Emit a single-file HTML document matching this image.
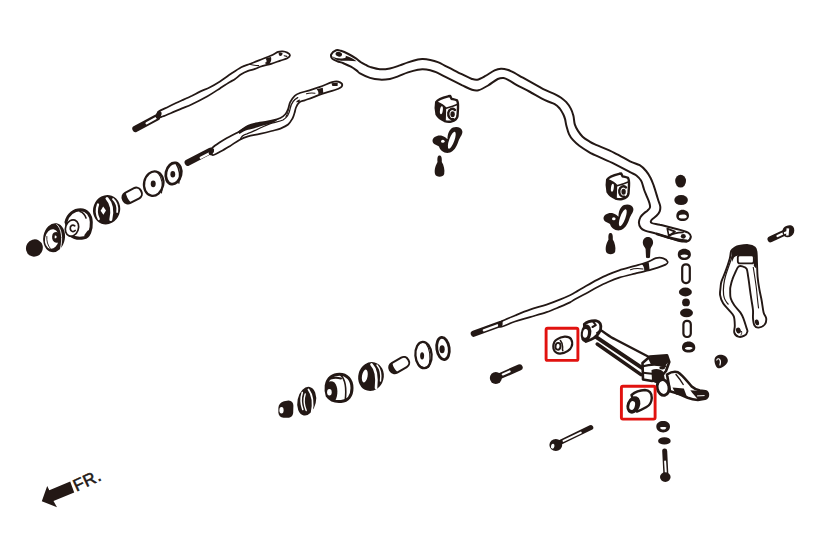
<!DOCTYPE html>
<html><head><meta charset="utf-8"><style>
html,body{margin:0;padding:0;background:#fff;}
body{width:815px;height:543px;overflow:hidden;}
svg{display:block;}
</style></head><body>
<svg width="815" height="543" viewBox="0 0 815 543">
<rect width="815" height="543" fill="#fff"/>
<g fill="none" stroke-linecap="round" stroke-linejoin="round">

<!--RODS-->
<path d="M159.0,111.3 C160.8,110.1 165.6,108.1 168.4,106.7 C171.2,105.3 173.7,104.1 176.0,103.0 C178.3,101.9 179.3,101.5 182.0,100.3 C184.7,99.1 189.0,97.2 192.0,95.8 C195.0,94.3 197.0,93.0 200.0,91.6 C203.0,90.2 206.7,88.9 210.0,87.2 C213.3,85.5 216.5,83.6 220.0,81.4 C223.5,79.2 227.5,76.2 231.0,73.8 C234.5,71.4 238.0,68.9 241.2,67.2 C244.4,65.5 247.3,64.9 250.4,63.7 C253.5,62.5 256.1,61.5 259.6,60.1 C263.1,58.7 268.1,56.9 271.2,55.5 C274.3,54.1 276.2,52.6 278.1,51.9 C280.0,51.2 281.2,51.3 282.7,51.4 C284.2,51.5 286.1,52.0 287.3,52.6 C288.5,53.2 290.0,54.3 290.0,55.3 C290.0,56.2 288.9,57.4 287.3,58.3 C285.7,59.2 283.1,59.7 280.4,60.6 C277.7,61.5 274.3,62.9 271.2,63.8 C268.1,64.7 264.7,65.2 262.0,66.1 C259.3,66.9 257.3,68.1 255.0,68.9 C252.7,69.7 250.4,70.0 248.1,70.9 C245.8,71.8 243.4,72.9 241.2,74.3 C239.0,75.7 236.7,77.9 234.8,79.2 C232.9,80.5 232.4,80.5 229.9,82.0 C227.4,83.5 223.6,86.0 219.9,88.4 C216.2,90.8 212.2,93.6 207.5,96.2 C202.8,98.8 196.2,102.2 192.0,104.2 C187.8,106.2 185.6,106.9 182.0,108.4 C178.4,109.9 174.1,111.8 170.7,113.2 C167.3,114.6 163.5,116.4 161.5,116.9 C159.5,117.5 159.2,117.0 158.5,116.5 C157.8,116.0 157.4,114.9 157.5,114.0 C157.6,113.1 157.2,112.5 159.0,111.3 Z" fill="#fff" stroke="#231815" stroke-width="1.75"/>
<path d="M265.5,58.6 C267.5,57.8 269.5,57.2 271,57 C271.6,59.3 271.2,61.5 270,63 C268.5,63.6 267,63.8 265.3,63.7 C266.8,62.2 267.2,60.5 265.5,58.6 Z" fill="#231815"/>
<path d="M278.6,52.6 C280.2,52.4 282,52.6 282.6,53.2 C282.6,55 281.2,56.2 279.8,55.9 C278.8,55.2 278.5,54 278.6,52.6 Z" fill="#231815"/>
<path d="M264.8,62.5 C267,62.4 269.5,62.6 271.2,63.2 L268,64.2 C266.5,64 265.5,63.5 264.8,62.5 Z" fill="#231815"/>
<path d="M249.5,64.3 C253,65.2 256,65.6 258.7,65.6" fill="none" stroke="#231815" stroke-width="1.1"/>
<path d="M284.2,55.7 L286.9,56.4" fill="none" stroke="#231815" stroke-width="1.1"/>
<path d="M135.5,128.8 L157,117.4" stroke="#231815" stroke-width="6.4"/>
<path d="M146.6,123.2 L155.6,118.3" stroke="#fff" stroke-width="2.3"/>
<ellipse cx="158.6" cy="114.8" rx="2.6" ry="4" transform="rotate(25 158.6 114.8)" fill="#231815"/>
<path d="M212.5,147.6 C213.9,146.3 217.1,144.1 219.5,142.5 C221.9,140.9 223.6,139.8 226.9,137.9 C230.2,136.1 235.9,133.4 239.4,131.4 C242.9,129.4 244.6,127.2 248.0,125.7 C251.4,124.2 255.9,123.5 259.8,122.7 C263.7,121.9 268.2,121.5 271.6,120.7 C275.0,119.9 278.1,119.1 280.4,118.0 C282.7,116.9 284.0,115.8 285.3,114.3 C286.6,112.8 287.2,111.3 288.0,109.3 C288.8,107.3 289.1,104.5 290.2,102.2 C291.3,100.0 293.0,97.4 294.7,95.8 C296.4,94.2 298.1,93.7 300.6,92.8 C303.1,91.9 306.3,91.3 309.5,90.3 C312.7,89.3 316.2,88.2 320.0,86.9 C323.8,85.6 329.1,83.1 332.1,82.2 C335.1,81.3 336.5,81.2 338.2,81.7 C339.9,82.2 342.3,83.8 342.3,85.0 C342.3,86.2 341.8,87.3 338.4,88.8 C335.0,90.3 326.2,92.4 322.0,93.8 C317.8,95.2 315.9,96.3 313.0,97.4 C310.1,98.5 307.0,99.5 304.7,100.3 C302.4,101.1 300.8,101.1 299.4,102.3 C297.9,103.5 296.8,105.7 296.0,107.5 C295.2,109.3 295.1,111.2 294.5,113.0 C293.9,114.8 293.6,116.6 292.5,118.5 C291.4,120.4 290.1,122.8 288.1,124.5 C286.1,126.2 283.1,127.5 280.4,128.6 C277.6,129.7 275.0,130.1 271.6,131.0 C268.2,131.9 263.7,133.0 259.8,133.9 C255.9,134.8 251.4,135.3 248.0,136.3 C244.6,137.3 242.5,138.2 239.4,139.9 C236.3,141.6 232.5,144.5 229.4,146.4 C226.3,148.3 223.7,149.9 221.0,151.3 C218.3,152.7 215.2,154.6 213.5,155.0 C211.8,155.4 211.4,154.3 211.0,153.5 C210.6,152.7 210.6,151.0 210.8,150.0 C211.1,149.0 211.1,148.8 212.5,147.6 Z" fill="#fff" stroke="#231815" stroke-width="1.75"/>
<path d="M238,131.6 C242,129 245,127 248,125.7 C252,124 256,123.3 259.8,122.7 C264,121.9 268,121.2 271.6,120.7 C275,120.2 278,119.2 280,118.3 C277,120.5 274,122.6 271.6,123.3 C267,124.6 263,125.4 259.8,126.5 C255,128 251,129 248,129.8 C245,130.8 242,132.3 239.5,134 Z" fill="#231815"/>
<path d="M240.5,139.2 C241,136.5 243,134.8 247,133.8 C255,131.3 265,124.8 272.8,122.8 C277,121.8 280,121.5 283,120 C287,117.5 289.5,113 290.2,108.5 C291,104 293,100 297.7,97.6" fill="none" stroke="#231815" stroke-width="1.3"/>
<path d="M286,116.5 C288,113 288.5,110 289,107" fill="none" stroke="#231815" stroke-width="1"/>
<path d="M296,102.2 C297,100.5 298.5,99.7 300,99.6 L299.5,102 Z" fill="#231815"/>
<path d="M316.5,89.3 L322.8,87.8 L323.3,93.3 L318.3,94.2 C318.8,92.3 318,90.5 316.5,89.3 Z" fill="#231815"/>
<path d="M331.4,83.2 L337.8,82.4 L337.6,85.9 L332.4,86 Z" fill="#231815"/>
<path d="M306.5,93.8 C309,92.9 312,92.8 315,93.2" fill="none" stroke="#231815" stroke-width="1.1"/>
<path d="M187.8,162.6 L210.5,150.8" stroke="#231815" stroke-width="6.4"/>
<path d="M200.8,157.8 L208.6,153.8" stroke="#fff" stroke-width="2.4"/>
<ellipse cx="211.4" cy="151.6" rx="2.2" ry="3.8" transform="rotate(25 211.4 151.6)" fill="#231815"/>
<path d="M501.5,321.4 C504.0,320.0 510.2,317.5 515.0,315.5 C519.8,313.5 524.7,311.4 530.0,309.6 C535.3,307.8 541.5,306.3 546.6,304.6 C551.7,302.9 556.5,301.0 560.4,299.4 C564.3,297.8 567.6,296.3 570.0,295.2 C572.4,294.1 572.3,294.1 575.0,292.6 C577.7,291.1 582.3,288.1 586.0,286.0 C589.7,283.9 593.4,281.8 597.1,279.9 C600.8,278.0 604.3,276.2 608.0,274.6 C611.7,273.0 614.7,271.8 619.2,270.3 C623.7,268.9 630.4,267.2 635.0,265.9 C639.6,264.6 643.5,263.6 647.0,262.3 C650.5,261.0 653.1,258.9 655.8,258.2 C658.5,257.5 661.3,257.7 663.3,258.3 C665.3,258.9 667.2,260.8 667.6,261.8 C668.0,262.9 667.9,263.4 665.6,264.6 C663.3,265.8 657.9,267.6 653.7,268.9 C649.5,270.2 643.3,271.6 640.2,272.4 C637.1,273.2 638.5,272.7 635.0,273.6 C631.5,274.5 623.7,276.3 619.2,277.7 C614.7,279.1 611.7,280.4 608.0,282.0 C604.3,283.6 600.8,285.4 597.1,287.3 C593.4,289.2 589.7,291.4 586.0,293.4 C582.3,295.4 577.7,297.8 575.0,299.3 C572.3,300.8 572.4,301.2 570.0,302.4 C567.6,303.6 564.3,305.0 560.4,306.6 C556.5,308.2 551.7,310.4 546.6,312.1 C541.5,313.9 535.3,315.5 530.0,317.1 C524.7,318.7 519.8,319.9 515.0,321.5 C510.2,323.1 504.0,326.3 501.5,326.7 C499.0,327.1 499.8,324.9 499.8,324.0 C499.8,323.1 499.0,322.8 501.5,321.4 Z" fill="#fff" stroke="#231815" stroke-width="1.75"/>
<path d="M641.5,264 L648.7,262.3 L649.6,269.8 L644.2,270.7 C644.5,268 643.5,265.5 641.5,264 Z" fill="#231815"/>
<path d="M630.5,269.8 C634,268.3 638,268.2 643,269" fill="none" stroke="#231815" stroke-width="1.1"/>
<path d="M473.8,333.7 L499.3,324.3" stroke="#231815" stroke-width="6.2"/>
<path d="M483.8,330.4 L497.5,325.4" stroke="#fff" stroke-width="2.2"/>
<ellipse cx="500.4" cy="324" rx="1.9" ry="3.6" transform="rotate(20 500.4 324)" fill="#231815"/>
<path d="M336.2,50.3 C337.8,49.7 338.9,50.2 340.9,50.8 C342.9,51.4 345.9,52.7 348.4,54.0 C350.9,55.3 353.9,57.1 355.9,58.4 C357.9,59.7 358.9,60.9 360.5,62.0 C362.1,63.1 364.2,64.1 365.8,64.9 C367.4,65.7 367.6,66.2 370.0,66.9 C372.4,67.6 376.6,69.0 379.9,69.2 C383.2,69.5 386.6,69.0 389.9,68.4 C393.2,67.8 396.8,66.4 399.8,65.4 C402.8,64.4 405.0,63.4 408.0,62.4 C411.0,61.4 415.4,60.1 417.9,59.5 C420.4,58.9 420.8,58.9 422.9,59.0 C425.0,59.1 427.8,59.5 430.3,60.0 C432.8,60.5 434.7,60.9 437.8,62.2 C440.9,63.5 444.9,65.7 448.9,67.7 C452.9,69.7 458.1,72.4 461.8,74.2 C465.6,76.0 468.8,77.8 471.4,78.7 C474.0,79.6 474.9,80.1 477.2,79.7 C479.4,79.3 482.0,77.8 484.9,76.2 C487.8,74.7 491.9,71.6 494.6,70.4 C497.3,69.2 498.9,68.9 501.0,68.8 C503.1,68.7 505.6,69.2 507.4,69.7 C509.2,70.2 509.4,70.4 512.0,71.7 C514.6,73.0 518.9,75.5 522.9,77.7 C526.9,79.9 532.1,82.8 535.8,84.8 C539.5,86.8 541.9,88.4 545.0,89.9 C548.1,91.5 552.0,92.8 554.7,94.1 C557.4,95.4 559.2,96.3 561.1,97.7 C563.0,99.1 564.7,100.4 566.3,102.2 C567.9,104.0 569.6,106.3 570.8,108.6 C572.0,110.8 572.7,113.1 573.4,115.7 C574.1,118.3 574.0,121.9 574.8,124.4 C575.6,126.9 576.7,128.9 578.0,130.9 C579.3,132.9 580.8,135.0 582.6,136.7 C584.4,138.4 586.9,139.9 589.0,141.2 C591.1,142.5 590.8,142.5 595.0,144.4 C599.2,146.3 608.5,150.0 614.3,152.8 C620.1,155.6 625.8,159.2 630.0,161.3 C634.2,163.4 637.0,163.6 639.7,165.2 C642.4,166.8 644.3,168.9 646.1,171.0 C647.9,173.1 649.3,175.5 650.6,178.0 C651.9,180.5 652.8,183.1 653.8,185.8 C654.8,188.5 655.7,191.7 656.4,194.1 C657.1,196.5 657.6,198.0 658.2,200.0 C658.8,202.0 660.0,204.2 660.2,206.1 C660.5,208.0 660.3,209.7 659.7,211.3 C659.1,212.9 657.9,214.4 656.5,215.8 C655.1,217.2 652.3,218.8 651.5,220.0 C650.7,221.2 650.3,222.2 651.7,223.0 C653.1,223.8 656.6,223.9 659.8,224.7 C663.0,225.4 667.1,226.6 670.8,227.5 C674.5,228.4 679.0,229.5 681.9,230.4 C684.8,231.3 686.8,231.7 688.3,232.8 C689.8,233.9 691.0,235.6 690.8,237.0 C690.6,238.4 689.1,240.8 687.0,241.4 C684.9,242.0 681.5,241.4 678.2,240.7 C674.9,240.0 670.8,238.4 667.1,237.2 C663.4,236.0 659.8,234.7 656.1,233.6 C652.4,232.5 647.5,231.6 645.0,230.6 C642.5,229.6 641.8,229.2 640.8,227.8 C639.8,226.5 638.9,224.3 638.9,222.5 C638.9,220.7 639.8,218.5 640.6,216.9 C641.5,215.3 642.9,214.2 644.0,213.2 C645.1,212.1 646.5,211.6 647.5,210.6 C648.5,209.6 649.7,208.7 650.0,207.4 C650.3,206.1 649.9,204.7 649.4,202.9 C648.9,201.1 647.7,198.6 646.8,196.4 C645.9,194.2 644.8,191.6 644.2,190.0 C643.6,188.4 643.7,188.2 643.2,186.6 C642.7,185.0 642.1,182.4 641.0,180.6 C639.9,178.8 638.2,176.9 636.4,175.5 C634.6,174.1 633.7,174.1 630.0,172.2 C626.3,170.2 620.1,166.7 614.3,163.8 C608.5,161.0 599.2,157.1 595.0,155.1 C590.8,153.1 591.6,153.7 589.0,152.1 C586.4,150.5 582.0,147.7 579.3,145.7 C576.6,143.7 574.6,141.8 572.9,139.9 C571.2,138.0 570.1,136.5 569.0,134.1 C567.9,131.7 567.1,128.2 566.4,125.7 C565.7,123.2 565.6,120.9 565.0,118.9 C564.4,116.9 563.9,115.5 563.0,113.8 C562.1,112.1 561.2,110.2 559.8,108.6 C558.4,107.0 557.2,105.5 554.7,104.1 C552.2,102.7 549.2,102.3 545.0,100.2 C540.8,98.1 534.1,94.1 529.3,91.5 C524.5,88.9 519.6,86.6 516.4,84.8 C513.2,83.0 512.1,82.0 510.0,80.9 C507.9,79.8 505.6,78.3 503.6,78.0 C501.6,77.7 500.4,77.8 497.8,79.0 C495.2,80.2 491.3,83.6 488.1,85.5 C484.9,87.4 481.1,89.6 478.4,90.3 C475.7,91.0 474.8,90.7 472.0,89.8 C469.2,88.9 465.7,86.9 461.8,85.1 C457.9,83.2 453.2,80.8 448.9,78.7 C444.6,76.6 439.1,73.6 436.0,72.2 C432.9,70.8 432.5,70.8 430.3,70.3 C428.1,69.8 425.0,69.3 422.9,69.2 C420.8,69.1 420.4,69.2 417.9,69.7 C415.4,70.2 411.3,71.3 408.0,72.4 C404.7,73.5 401.0,75.3 398.0,76.4 C395.0,77.5 392.9,78.4 389.9,78.9 C386.9,79.4 383.2,79.8 379.9,79.6 C376.6,79.4 373.3,78.9 370.0,77.9 C366.7,76.9 362.2,74.6 360.0,73.4 C357.8,72.2 358.3,71.7 356.8,70.6 C355.3,69.5 353.1,67.8 350.9,66.6 C348.7,65.4 345.6,64.2 343.4,63.3 C341.1,62.4 339.2,62.0 337.4,61.3 C335.6,60.6 333.5,60.0 332.5,58.9 C331.5,57.8 330.6,55.9 331.2,54.5 C331.8,53.1 334.6,50.9 336.2,50.3 Z" fill="#fff" stroke="#231815" stroke-width="2.0"/>
<ellipse cx="338.8" cy="54.2" rx="3.3" ry="2.3" transform="rotate(15 338.8 54.2)" fill="#231815"/>
<path d="M332,56 C334,59 337,60.5 341,60.8 C346,61.2 351,61 356.5,61.2 C353.5,58.8 350,57 345.5,55.8 C346.5,57.2 345.5,58 343.5,58.3 C339.5,58.8 335.5,58.3 332,56 Z" fill="#231815"/>
<path d="M667.3,228.6 L668.8,235.8 L675,231.6 Z" fill="none" stroke="#231815" stroke-width="1.7" stroke-linejoin="round"/>
<path d="M668.8,236 C672,234 677,232.6 683,232.4" fill="none" stroke="#231815" stroke-width="1.8"/>
<path d="M657,234 C665,236.6 674,239.5 686.5,241" fill="none" stroke="#231815" stroke-width="2.8" stroke-linecap="round"/>
<ellipse cx="683.3" cy="236.3" rx="2.5" ry="2.4" fill="#231815"/>
<!--/RODS-->
</g>



<!-- UPPER LEFT BUSHING ROW -->
<g stroke-linecap="round" stroke-linejoin="round">
<ellipse cx="34.4" cy="248" rx="8.3" ry="8.8" transform="rotate(30 34.4 248)" fill="#231815"/>
<ellipse cx="54.1" cy="237.7" rx="10.8" ry="14.6" transform="rotate(10 54.1 237.7)" fill="#231815"/>
<ellipse cx="51.9" cy="239" rx="6.9" ry="9.9" transform="rotate(10 51.9 239)" fill="#fff"/>
<path d="M59,233 C57,231.3 53.8,231.6 52.6,234 C51.6,236.8 52,240.3 54.2,242 C56.2,243.3 58.5,242.8 59.6,241.2 C59.9,238.5 59.7,235.5 59,233 Z" fill="#231815"/>
<path d="M54.8,235.6 C56,235.2 56.8,236 56.6,237.2 C56.3,238.3 55.4,238.6 54.6,238.2 Z" fill="#fff"/>
<path d="M56.8,224.5 C61.5,228.5 63,238 60.5,248.5" fill="none" stroke="#fff" stroke-width="0.9"/>
<path d="M46.8,236.5 C46.4,241 47.8,245.5 50.3,248.5" fill="none" stroke="#231815" stroke-width="0.9"/>
<!-- dome -->
<path d="M66,222 C68,214 74,209.8 80.5,209.8 C87,209.8 91,215 91.3,222 C91.7,230 89,237 84,237.8 C79,239 74,238 70,235 Z" fill="#fff" stroke="#231815" stroke-width="3"/>
<ellipse cx="72" cy="228" rx="6.4" ry="8.4" transform="rotate(20 72 228)" fill="#fff" stroke="#231815" stroke-width="1.7"/>
<path d="M74.8,225.8 C72.5,224 69.8,225.8 70.3,229 C70.8,231.8 73.5,232.3 75.2,230.5" fill="none" stroke="#231815" stroke-width="1.7"/>
<path d="M80,211.5 C83,212.5 85,215 86,218" fill="none" stroke="#231815" stroke-width="1.6"/>
<path d="M85.5,235.5 L88.5,231.5" stroke="#231815" stroke-width="2.4"/>
<!-- big dark -->
<ellipse cx="106.6" cy="209.7" rx="13.4" ry="14.9" transform="rotate(20 106.6 209.7)" fill="#231815"/>
<path d="M98,204.5 Q95.2,212 98.8,219" fill="none" stroke="#fff" stroke-width="2.2"/>
<path d="M100.6,210.8 L103.2,206.6 L106,210.5 L103.4,214.8 Z" fill="#fff"/>
<path d="M107,198.5 Q114,206 110.8,219.5" fill="none" stroke="#fff" stroke-width="3"/>
<path d="M113,199 Q118.3,204 117.2,212" fill="none" stroke="#fff" stroke-width="1.8"/>
<!-- sleeve -->
<g transform="translate(132.2,195.6) rotate(-28)">
<rect x="-10" y="-5.7" width="20" height="11.4" rx="5" fill="#fff" stroke="#231815" stroke-width="2"/>
<path d="M-4.3,-5.7 Q-6.3,0 -4.3,5.7 L-5,5.7 A5,5 0 0 1 -10,0.7 L-10,-0.7 A5,5 0 0 1 -5,-5.7 Z" fill="#231815"/>
</g>
<!-- washers -->
<ellipse cx="153.7" cy="183.6" rx="9.6" ry="12.3" transform="rotate(12 153.7 183.6)" fill="#fff" stroke="#231815" stroke-width="2.3"/>
<path d="M158,173 Q164,180 161.5,193" fill="none" stroke="#231815" stroke-width="1.1"/>
<ellipse cx="153.2" cy="183.8" rx="2.5" ry="3.4" fill="#231815"/>
<ellipse cx="173.5" cy="173.5" rx="7.6" ry="10.8" transform="rotate(12 173.5 173.5)" fill="#fff" stroke="#231815" stroke-width="2.8"/>
<path d="M176.5,164.5 Q181,171 178.8,183" fill="none" stroke="#231815" stroke-width="1.4"/>
<ellipse cx="172.8" cy="174.2" rx="2.4" ry="3.3" fill="#231815"/>
</g>

<!-- LOWER BUSHING ROW -->
<g stroke-linecap="round" stroke-linejoin="round">
<path d="M278.4,408 C278.6,404.5 280.5,402 284,401.2 L288.5,400.4 C291.5,400.3 293.3,402.5 293.4,405.5 L293.2,412.5 C293,416 290.8,417.6 287.5,417.8 L283.5,417.8 C280.5,417.5 278.5,415.5 278.4,412.5 Z" fill="#231815"/>
<ellipse cx="281.5" cy="410.2" rx="2.1" ry="3.2" fill="#fff"/>
<ellipse cx="306.7" cy="401.2" rx="9.2" ry="14.5" transform="rotate(12 306.7 401.2)" fill="#231815"/>
<path d="M302.3,392.5 Q299.6,401 302.8,409.5" fill="none" stroke="#fff" stroke-width="1.6"/>
<path d="M305.2,394 Q302.6,402 306.2,410.5" fill="none" stroke="#fff" stroke-width="1.4"/>
<path d="M308.5,389.5 Q314.8,398 311.6,413" fill="none" stroke="#fff" stroke-width="1.8"/>
<!-- dome -->
<path d="M326.2,385.5 C327.5,378 333,374.2 339.5,374.2 C347,374.2 352,380 352,388 C352,396 348,401 341,401.5 C335,402 330,400 327.2,396 C326,393 325.8,389 326.2,385.5 Z" fill="#fff" stroke="#231815" stroke-width="3"/>
<path d="M326,385 C327.5,381 331.5,380 334.5,382.5 C338,386.5 338.5,395 335,401 C331,400.5 328,398.5 326.5,395.5 C325.8,392 325.6,388 326,385 Z" fill="#231815"/>
<ellipse cx="329.4" cy="392.3" rx="2.3" ry="3.3" fill="#fff"/>
<path d="M330.5,378.5 C334,377.5 337.5,377.5 341,378.5" fill="none" stroke="#231815" stroke-width="2"/>
<path d="M340.5,374.8 Q347.5,381 345.2,400.5" fill="none" stroke="#231815" stroke-width="1.6"/>
<!-- big dark -->
<ellipse cx="371" cy="376.5" rx="12.7" ry="14.6" transform="rotate(15 371 376.5)" fill="#231815"/>
<ellipse cx="364.8" cy="376" rx="2.8" ry="6.5" transform="rotate(10 364.8 376)" fill="#fff"/>
<path d="M371.5,364.5 Q378,371 376,388" fill="none" stroke="#fff" stroke-width="2.6"/>
<path d="M377,365 Q382,371 380.5,381" fill="none" stroke="#fff" stroke-width="1.4"/>
<!-- sleeve -->
<g transform="translate(399.2,365.1) rotate(-30)">
<rect x="-10.5" y="-5.5" width="21" height="11" rx="5" fill="#fff" stroke="#231815" stroke-width="2"/>
<path d="M-4.8,-5.5 Q-6.8,0 -4.8,5.5 L-5.5,5.5 A5,5 0 0 1 -10.5,0.5 L-10.5,-0.5 A5,5 0 0 1 -5.5,-5.5 Z" fill="#231815"/>
</g>
<!-- washers -->
<ellipse cx="423.5" cy="355" rx="8.1" ry="13.2" transform="rotate(-4 423.5 355)" fill="#fff" stroke="#231815" stroke-width="2.3"/>
<path d="M426,343.5 Q432,352 429,366" fill="none" stroke="#231815" stroke-width="1.1"/>
<path d="M418,364 Q423,370 430,365 L429,367.5 Q423,371 418.5,366 Z" fill="#231815"/>
<ellipse cx="422.1" cy="355.8" rx="2" ry="3.6" fill="#231815"/>
<ellipse cx="443" cy="348.5" rx="6.2" ry="11.2" transform="rotate(-8 443 348.5)" fill="#fff" stroke="#231815" stroke-width="2.8"/>
<ellipse cx="442.1" cy="349.2" rx="2.6" ry="4" fill="#231815"/>
</g>

<!-- BRACKET SETS -->
<g id="bset" stroke-linecap="round" stroke-linejoin="round">
<path d="M436.2,102 C437.5,99.8 441,98 448.2,96.3 L450.2,96 L451.5,98.8 C453.5,99.3 455.5,99.6 457,100.4 C458,102 458.2,104 458,108 L457.5,116 C457.2,118.5 455,120.5 451,121.6 C448,122.2 446,121.5 444.5,121 C441,119.5 438,117 436.6,114.5 C435.6,110 435.6,105 436.2,102 Z" fill="#fff" stroke="#231815" stroke-width="2.4"/>
<path d="M436.2,102 C438.5,103 441.5,104.2 444,105.8 L446.2,108.5 L445.8,121 C441.5,119.5 438.2,117 436.6,114.5 C435.6,110 435.6,105 436.2,102 Z" fill="#231815"/>
<path d="M436.5,102 C440.5,103.6 443.8,105.4 446,108.3 C450,107.2 454,106 457.8,104.3" fill="none" stroke="#231815" stroke-width="1.6"/>
<ellipse cx="441.4" cy="110.2" rx="1.4" ry="4" transform="rotate(8 441.4 110.2)" fill="#fff"/>
<path d="M455,110 C452.5,107.8 449,108.8 448.3,112.8 C447.8,116.5 450,119.8 453.3,119.2" fill="none" stroke="#231815" stroke-width="2.4"/>
<ellipse cx="452.6" cy="114.2" rx="2.2" ry="3" fill="#231815"/>
<path d="M432.5,141 C432.5,137 438,134.5 442.5,136 C446,137.5 447,139 447.5,139 C447.5,134 449,129.5 453,127.5 C457,126 461.5,127.5 462.3,131 C463,134 460,137 458.5,141 C456.5,147 454,151.5 449,152.8 C444,153.5 440,150.5 439,146.5 C437,145 433,144.5 432.5,141 Z" fill="#231815"/>
<ellipse cx="451.8" cy="140.2" rx="2.6" ry="9" transform="rotate(20 451.8 140.2)" fill="#fff"/>
<ellipse cx="442.8" cy="141.3" rx="1.8" ry="1.5" fill="#fff"/>
<path d="M439.5,155.5 C441.5,155.5 442,158 441.8,162 C443.8,165 445,170 444.2,174 C443.2,177.5 436,177.5 435,174 C434,169 436,165 437.5,162 C437.2,158 437.5,155.5 439.5,155.5 Z" fill="#231815"/>
</g>
<use href="#bset" transform="translate(171,77.5)"/>
<!-- stud -->
<path d="M648,237 C651.5,237 653.5,240 653,243.5 C652.5,246 650.8,247 650.5,249 L650,257 C649.8,258.6 646.2,258.6 646,257 L645.6,249 C645.2,247 643,246 642.8,243 C642.8,239.5 644.5,237 648,237 Z" fill="#231815"/>

<!-- END LINK STACK -->
<g fill="#231815">
<ellipse cx="680.6" cy="181.1" rx="5.4" ry="6.4"/>
<ellipse cx="681.1" cy="200.1" rx="6.8" ry="5"/>
<path d="M676.3,216 C676.3,212 679.5,209.8 682.5,209.8 C686,209.8 689,212 689,215.5 C689,219 686.5,221 682.5,221 C679,221 676.3,219 676.3,216 Z M678.8,217 C678.8,219 686.5,219.2 686.8,217 C686.8,215.2 685.5,214.6 682.8,214.6 C680,214.6 678.8,215.3 678.8,217 Z" fill-rule="evenodd"/>
<path d="M677.8,254.5 C677.8,251 680.5,248.8 684.3,248.8 C688,248.8 690.9,251 690.9,254.5 C690.9,258 688,260 684.3,260 C680.5,260 677.8,258 677.8,254.5 Z M680.5,255.5 C681.5,258.5 687,258.5 688.2,255.5 C686,254.3 682.5,254.3 680.5,255.5 Z" fill-rule="evenodd"/>
<rect x="682.2" y="264.3" width="7.6" height="18.8" rx="3.5" fill="#fff" stroke="#231815" stroke-width="2.2"/>
<ellipse cx="685.4" cy="292" rx="6.5" ry="4.4"/>
<ellipse cx="686" cy="302.4" rx="3.9" ry="3.9"/>
<ellipse cx="686.5" cy="312.8" rx="6.5" ry="4.4"/>
<rect x="683.4" y="320.8" width="7.4" height="16.2" rx="3.4" fill="#fff" stroke="#231815" stroke-width="2.2"/>
<path d="M682,347.5 C682,343.5 685,341.5 688.6,341.5 C692.5,341.5 695.3,344 695.3,347.5 C695.3,351 692.5,352.6 688.6,352.6 C685,352.6 682,351 682,347.5 Z M684.8,348.5 C685.5,350.3 692,350.3 692.6,348 C691.5,346.8 686,346.6 684.8,348.5 Z" fill-rule="evenodd"/>
</g>

<!-- KNUCKLE -->
<path d="M731.2,251.0 C732.1,249.2 733.7,248.4 735.0,247.6 C736.3,246.8 736.8,246.4 739.0,246.0 C741.2,245.6 745.6,244.9 748.2,245.1 C750.8,245.3 753.3,246.2 754.7,247.4 C756.1,248.6 756.1,249.4 756.5,252.0 C756.9,254.6 756.8,258.9 757.0,263.0 C757.2,267.1 757.2,272.3 757.6,276.8 C758.0,281.3 758.8,286.1 759.5,290.0 C760.2,293.9 760.9,296.5 761.6,300.2 C762.3,303.9 762.8,309.4 763.6,312.4 C764.4,315.4 766.0,316.4 766.2,318.4 C766.4,320.4 766.0,323.0 764.7,324.5 C763.4,326.0 760.3,327.4 758.6,327.6 C756.9,327.8 755.4,327.0 754.5,325.5 C753.6,324.0 753.2,320.9 753.0,318.4 C752.8,315.9 753.2,313.3 753.0,310.3 C752.8,307.3 752.0,303.6 751.5,300.2 C751.0,296.8 750.5,293.9 750.0,290.0 C749.5,286.1 748.8,280.3 748.2,276.8 C747.6,273.3 747.6,270.5 746.6,268.8 C745.6,267.1 743.8,266.8 742.5,266.4 C741.2,266.0 739.8,265.7 738.6,266.6 C737.4,267.5 736.5,269.8 735.5,272.0 C734.5,274.2 733.1,277.1 732.3,279.6 C731.4,282.1 730.8,285.1 730.4,287.0 C730.0,288.9 730.2,289.2 730.2,291.1 C730.2,293.0 730.0,295.8 730.7,298.2 C731.4,300.6 732.7,302.9 734.3,305.3 C735.9,307.7 738.8,310.2 740.3,312.4 C741.8,314.6 742.4,315.9 743.4,318.4 C744.4,320.9 745.7,325.4 746.4,327.6 C747.1,329.8 747.7,330.2 747.4,331.6 C747.1,333.0 745.9,334.9 744.4,335.7 C742.9,336.5 740.0,337.2 738.3,336.7 C736.6,336.2 734.9,334.5 734.3,332.6 C733.7,330.7 734.9,328.2 734.8,325.5 C734.7,322.8 734.7,318.9 733.8,316.4 C732.9,313.9 731.0,312.5 729.2,310.3 C727.4,308.1 724.6,305.7 723.1,303.2 C721.6,300.7 720.5,297.8 720.1,295.1 C719.7,292.4 720.4,289.3 720.6,287.0 C720.8,284.7 720.7,283.9 721.5,281.4 C722.3,278.9 723.8,276.0 725.2,272.2 C726.6,268.4 728.8,261.9 729.8,258.4 C730.8,254.9 730.3,252.8 731.2,251.0 Z" fill="#fff" stroke="#231815" stroke-width="1.9" stroke-linejoin="round"/>
<path d="M731.3,252 C733,248.5 736,246.5 739,246.2 L748.2,245.3 C751,245.5 753.5,246.2 754.6,247.6 C756,249.5 756.4,251 756.4,253 L756.9,263 L756.2,268.5 L753.8,266 L754.2,257 C753.5,255.6 752,255 750,255 L740,255.2 C737.5,255.4 735.5,256 734,257.5 L732,262 Z" fill="#231815"/>
<rect x="737.8" y="255.4" width="16" height="8" rx="2.2" fill="#fff" stroke="#231815" stroke-width="1.8"/>
<path d="M732.2,256 C730.5,262 728,268 725.8,275 C724,281 722.8,287 723.6,295 C724.2,299 726,302 728.5,304.5" fill="none" stroke="#231815" stroke-width="1.2"/>
<path d="M753.2,267 C754.5,275 755.8,283 756.6,290 C757.3,297 757.8,303 758.6,308.3" fill="none" stroke="#231815" stroke-width="1.1"/>
<ellipse cx="738.4" cy="330.5" rx="2.4" ry="3" transform="rotate(-20 738.4 330.5)" fill="#231815"/>
<ellipse cx="757" cy="322.4" rx="2" ry="2.9" transform="rotate(-15 757 322.4)" fill="#231815"/>
<path d="M741.5,331 C742,333 741.5,334.5 740.5,335.3" fill="none" stroke="#231815" stroke-width="1"/>
<!-- knuckle bolt -->
<g stroke-linecap="round">
<path d="M770.5,239.3 L785,232.5" stroke="#231815" stroke-width="6"/>
<path d="M777.5,236 L785,232.5" stroke="#fff" stroke-width="2.2"/>
<path d="M783.5,228 C785.5,225.5 789,224.8 791.5,225.5 C794,226.5 794.8,229.5 794,232.5 C793,235.5 790,237.5 787,237.3 C784.5,237 782.5,234.5 782.4,232 C782.4,230.5 782.8,229 783.5,228 Z" fill="#231815"/>
<path d="M783.8,232.2 L786.3,231.2 L786.6,228.3 L789.2,228.5 L788.6,235.5 L786,235.6 L786.3,233.5 L784.3,234.3 Z" fill="#fff"/>
</g>
<!-- small part -->
<path d="M714.5,361 C714,356.5 718,354.6 721.5,354.8 C725,355 728,358 727.8,361 C727.5,364 723,367.5 719.5,368.3 C716.5,368.8 715,365 714.5,361 Z" fill="#231815"/>
<path d="M716.6,360.5 C717,358.6 718.8,358.2 719.8,359.6 C720.8,361.2 720.6,363.5 719.8,365.5" fill="none" stroke="#fff" stroke-width="1.1"/>

<!-- CONTROL ARM -->
<g stroke-linecap="round" stroke-linejoin="round">
<path d="M599,329 L653,357 L646,378 L641,376.5 L596,345 Z" fill="#fff" stroke="none"/>
<path d="M600.5,330 C606,333.5 610,336.8 615,339.3 L649,357" fill="none" stroke="#231815" stroke-width="2.4"/>
<path d="M594,335.6 L642,367.9" fill="none" stroke="#231815" stroke-width="4"/>
<path d="M597.2,344 L641,374.6" fill="none" stroke="#231815" stroke-width="3.5"/>
<!-- left eye -->
<path d="M584.3,324.3 C587.3,321.3 592,320.6 596.5,320.8 C600,321.3 601.6,325 600.6,329.5 C599,334 595.5,337.5 591,339.5 L586,341.5 Z" fill="#fff" stroke="#231815" stroke-width="2.8"/>
<path d="M593,321.5 L595.8,325.2 L592.5,327" fill="none" stroke="#231815" stroke-width="2"/>
<path d="M596.8,333 L600.5,330.5" fill="none" stroke="#231815" stroke-width="1.6"/>
<ellipse cx="586" cy="333.4" rx="5.2" ry="9" transform="rotate(8 586 333.4)" fill="#231815"/>
<ellipse cx="585.4" cy="333.4" rx="2.5" ry="4.4" transform="rotate(8 585.4 333.4)" fill="#fff"/>
<!-- housing -->
<path d="M642.5,363 L650,356.5 L667,355.2 L669.3,362 L666,371 L660,378 L652,381 L643,379.5 Z" fill="#fff" stroke="#231815" stroke-width="2.6"/>
<path d="M648,358.2 L655,355.3 L667.6,355.2 L669,361.5 L665,366 L651,364.5 Z" fill="#231815"/>
<path d="M643,366.3 C650,364.2 658,364.2 665.5,366.2" fill="none" stroke="#231815" stroke-width="2.2"/>
<ellipse cx="662.3" cy="367.8" rx="2.9" ry="1.7" fill="#231815"/>
<path d="M651.5,370 C656,368.3 661,369 663.5,372 L665,380.5 L657,383.5 L652,381.5 Z" fill="#231815"/>
<path d="M643,372.8 L652,373.8" fill="none" stroke="#231815" stroke-width="2"/>
<!-- arm -->
<path d="M667,374.5 C671,372 675,371.3 678,372.3 C681.5,374 684.5,378 691.7,386.5 C694,388.5 697,390 700,390.5 L705.5,391.2 C708.8,392.5 708.8,397.2 705,398.8 L697.8,400 C693,399.7 690,398.7 687.7,397.8 L678.5,393.7 L670,391.2 Z" fill="#fff" stroke="#231815" stroke-width="2.6"/>
<path d="M672.5,387.5 L683.8,388.5 L687,397 L676,394.5 Z" fill="#231815"/>
<path d="M690.3,390.3 C695,390.8 700,390.8 705.5,391.3 C708.3,393.5 707.8,397.3 704.6,398.7 L698,399.8 C695.8,397 693,394 690.3,390.3 Z" fill="#231815"/>
<path d="M697.5,395.9 L704.2,395.6" fill="none" stroke="#fff" stroke-width="1"/>
<path d="M676,374.5 C679,378 681.2,381 683.2,384.5" fill="none" stroke="#231815" stroke-width="1.4"/>
<ellipse cx="663.1" cy="387.5" rx="5.9" ry="7.9" transform="rotate(-12 663.1 387.5)" fill="#fff" stroke="#231815" stroke-width="2.9"/>
</g>

<!-- RED BOX BUSHINGS -->
<g stroke-linecap="round" stroke-linejoin="round">
<path d="M553.3,346.4 C553.5,342.5 555,340.5 557,339.4 C559.5,337.6 562,336.8 564.7,336.6 C567.5,336.5 569.8,337.3 571,339 C572.3,341 572.5,344 571.6,346.5 C570.8,348.8 569.5,350 568,350.8 C565.5,352.5 562.5,353.4 560,353.6 C557.5,353.6 555.5,352.5 554.5,351 C553.7,349.8 553.2,348.2 553.3,346.4 Z" fill="#fff" stroke="#231815" stroke-width="2.2"/>
<path d="M560.4,340.5 C562,342.5 562.8,344.5 562.6,347 C562.5,348.5 562.2,349.6 562.8,350.6" fill="none" stroke="#231815" stroke-width="1.6"/>
<ellipse cx="558" cy="346.3" rx="2.5" ry="3.4" transform="rotate(10 558 346.3)" fill="#fff" stroke="#231815" stroke-width="1.9"/>
<path d="M631.5,395 C635,392 640,390.2 645,390 C649,390 652,393 651.8,398 C651.5,402.5 649.5,405.5 646.5,407 C643,409 640,410.5 637,411.5 Z" fill="#fff" stroke="#231815" stroke-width="2.4"/>
<ellipse cx="633.4" cy="404.9" rx="6.6" ry="9" transform="rotate(22 633.4 404.9)" fill="#231815"/>
<ellipse cx="632.2" cy="405.5" rx="2.7" ry="4.5" transform="rotate(15 632.2 405.5)" fill="#fff"/>
</g>

<!-- BOLTS -->
<g stroke-linecap="round">
<path d="M500,376 L519.6,367.4" stroke="#231815" stroke-width="6.2"/>
<path d="M502.8,374.4 L509.6,371.4" stroke="#fff" stroke-width="2.2"/>
<ellipse cx="495.8" cy="378" rx="6" ry="6" fill="#231815"/>
<path d="M561,442 L590.8,427.6" stroke="#231815" stroke-width="5"/>
<path d="M563.5,440.9 L580.8,432.6" stroke="#fff" stroke-width="2"/>
<ellipse cx="555.8" cy="445" rx="6.4" ry="5.9" fill="#231815"/>
<ellipse cx="552.7" cy="446.2" rx="1.7" ry="2.5" transform="rotate(15 552.7 446.2)" fill="#fff"/>
<path d="M664.7,451 L665.8,473" stroke="#231815" stroke-width="5"/>
<path d="M665.1,461.5 L665.8,472.5" stroke="#fff" stroke-width="2"/>
<ellipse cx="665.3" cy="477.1" rx="5.3" ry="4.8" fill="#231815"/>
</g>
<!-- lower parts under box 2 -->
<path d="M656.3,426.5 C656.3,423 659.5,421.1 663.2,421.1 C667,421.1 670,423 670,426.5 C670,430 667,432.4 663.2,432.4 C659.5,432.4 656.3,430 656.3,426.5 Z M660,427.4 C660.5,430 665.5,430.5 666.4,427.4 C664.5,426.8 662,426.8 660,427.4 Z" fill="#231815" fill-rule="evenodd"/>
<ellipse cx="664.4" cy="440.9" rx="6.3" ry="3.6" fill="#231815"/>

<!-- FR ARROW -->
<path d="M41.8,501.3 L47.2,486.1 L49.3,490.2 L70.2,481.5 L74.2,492.4 L53.5,501 L57,507.2 Z" fill="#231815"/>
<text x="0" y="0" transform="translate(76.4,491.8) rotate(-25)" font-family="'Liberation Sans', sans-serif" font-size="17" letter-spacing="0.6" fill="#231815" stroke="#231815" stroke-width="0.55">FR.</text>

<!-- RED BOXES -->
<rect x="546.1" y="328.2" width="31.8" height="32.2" rx="1.5" fill="none" stroke="#e1120f" stroke-width="2.9"/>
<rect x="621.4" y="386.3" width="33.7" height="32.8" rx="1.5" fill="none" stroke="#e1120f" stroke-width="2.9"/>

</svg>
</body></html>
